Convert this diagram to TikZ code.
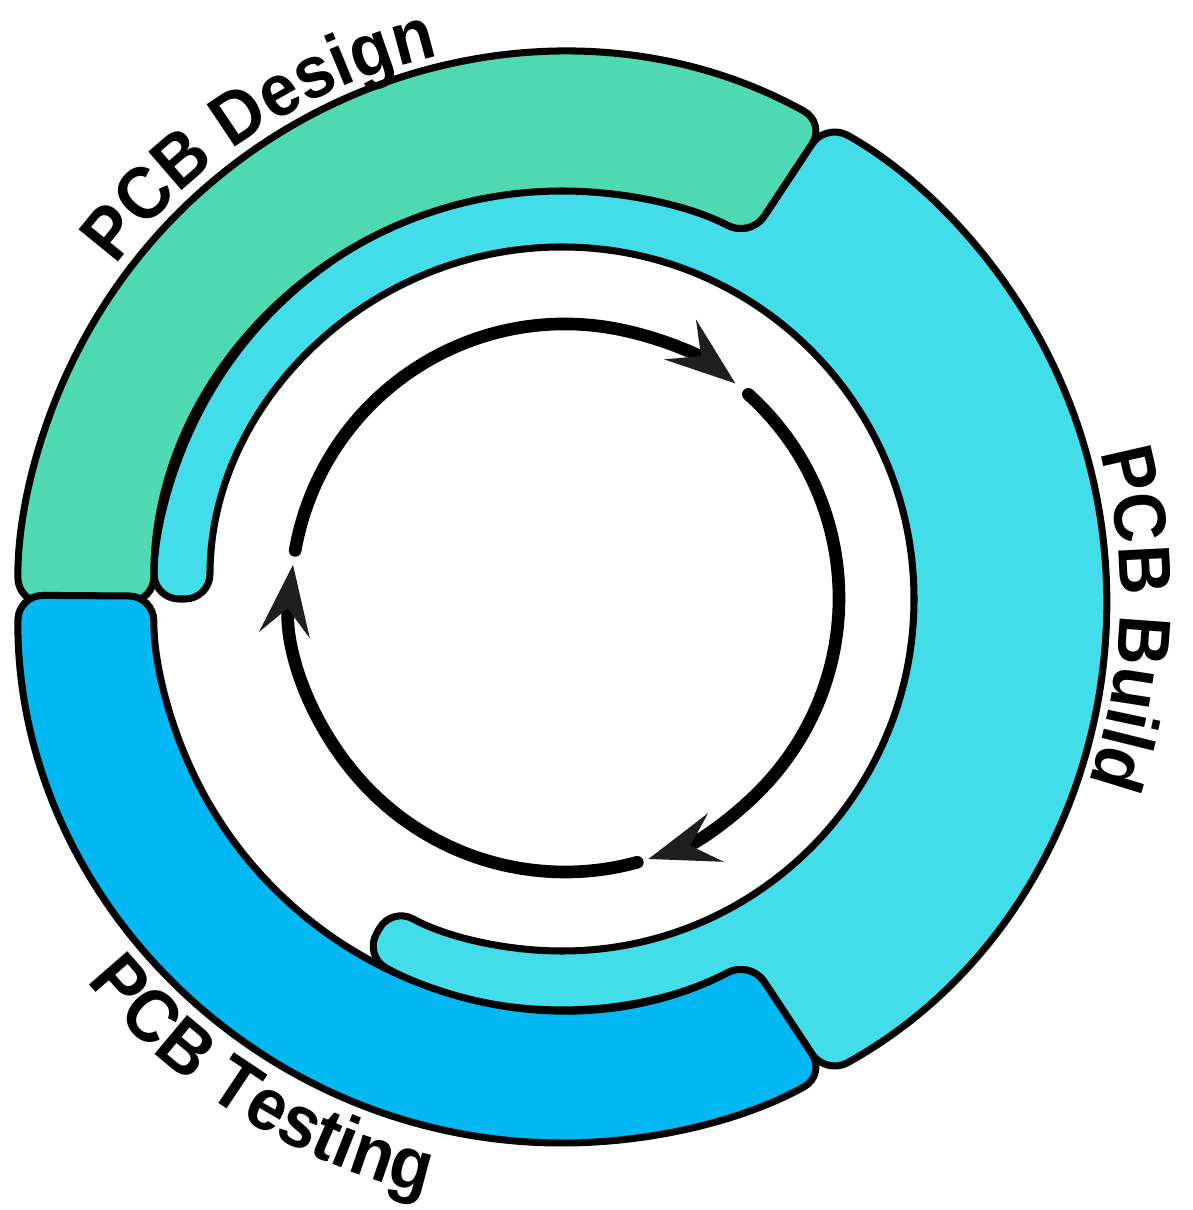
\documentclass[tikz,border=0pt]{standalone}
\usepackage{fontspec}
\usepackage{tikz}
\usetikzlibrary{arrows.meta,decorations.text}
\newfontfamily\ringfont[FakeStretch=0.93]{Liberation Sans}
\definecolor{designgreen}{HTML}{4FD9B3}
\definecolor{buildcyan}{HTML}{42DDE8}
\definecolor{testblue}{HTML}{02B8F3}

\begin{document}
\begin{tikzpicture}[
    >=Stealth,
    band/.style={draw=black, line width=2pt, rounded corners=0.25cm, line join=round},
    cyclearc/.style={
      -{Stealth[length=7mm, width=5mm, inset=2.6mm, color=black!88]},
      line width=3.6pt,
      line cap=round,
      draw=black
    },
    ringlabel/.style={
      decorate,
      decoration={text along path, text align=center,
        text={|\ringfont\bfseries\fontsize{21}{25}\selectfont|#1}}
    }
  ]
    \useasboundingbox (-5.62,-6.11) rectangle (6.30,5.99);

    % build band, drawn first so the others sit on top
    \draw[band, fill=buildcyan] (-61:5.44)
      arc[start angle=-61, end angle=61, radius=5.44] -- (62.5:4.08)
      arc[start angle=62.5, end angle=180, radius=4.08] -- (180:3.52)
      arc[start angle=180, end angle=-119, radius=3.52] -- (-119:4.08)
      arc[start angle=-119, end angle=-62.5, radius=4.08] -- cycle;
    % design band
    \draw[band, fill=designgreen] (61:5.44)
      arc[start angle=61, end angle=180.4, radius=5.44] -- (180.4:4.08)
      arc[start angle=180.4, end angle=62.5, radius=4.08] -- cycle;
    % testing band
    \draw[band, fill=testblue] (179.6:5.44)
      arc[start angle=179.6, end angle=299, radius=5.44] -- (297.5:4.08)
      arc[start angle=297.5, end angle=179.6, radius=4.08] -- cycle;

    % cycle arrows
    \begin{scope}[shift={(0.03,0.01)}]
      \draw[cyclearc] (170:2.74) arc[start angle=170, end angle=51.5, radius=2.74];
      \draw[cyclearc] (48:2.74) arc[start angle=48, end angle=-72.3, radius=2.74];
      \draw[cyclearc] (-74.7:2.74) arc[start angle=-74.7, end angle=-187, radius=2.74];
    \end{scope}

    % labels
    \path[ringlabel={PCB Design}] (170:5.57) arc[start angle=170, end angle=76, radius=5.57];
    \path[ringlabel={PCB Build}] (45:5.58) arc[start angle=45, end angle=-49, radius=5.58];
    \path[ringlabel={PCB Testing}] (195:6.10) arc[start angle=195, end angle=281, radius=6.10];
  \end{tikzpicture}
\end{document}
